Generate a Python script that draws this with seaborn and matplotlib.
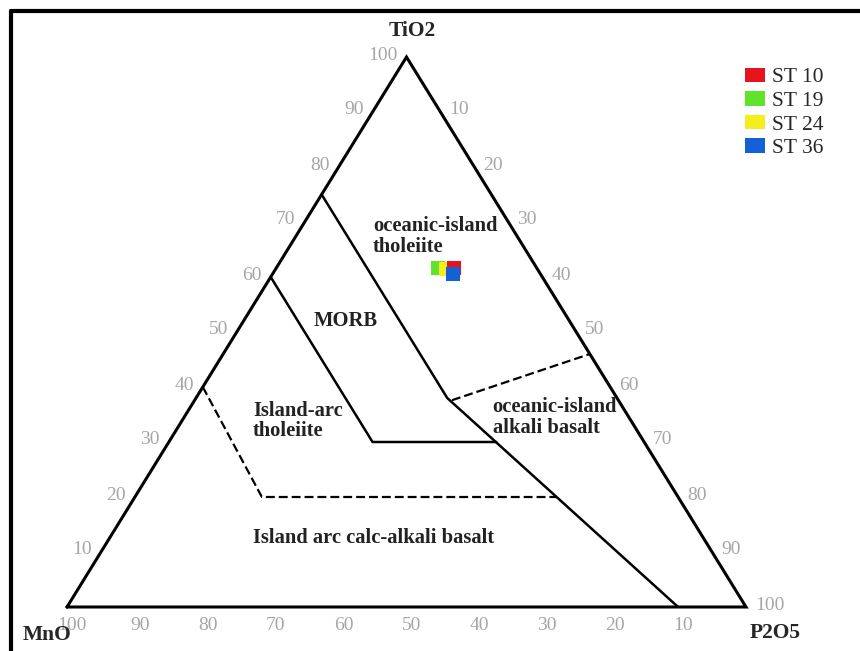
import numpy as np
import pandas as pd
import matplotlib.pyplot as plt
from matplotlib.patches import Patch
from matplotlib.lines import Line2D
import seaborn as sns

# sample compositions (wt% normalised, TiO2 / MnO / P2O5)
samples = ['ST 10', 'ST 19', 'ST 24', 'ST 36']
tio2 = [61.6, 61.6, 61.5, 60.5]
mno = [12.2, 14.5, 13.5, 12.9]
p2o5 = [26.2, 23.9, 25.0, 26.6]
colors = ['#e8141c', '#5fe32b', '#f4ef1c', '#1460d6']
draw_order = ['ST 19', 'ST 24', 'ST 10', 'ST 36']

# field boundaries (TiO2, MnO, P2O5)
morb_line = [(75, 25, 0), (38, 25, 37), (0, 10, 90)]
iat_line = [(60, 40, 0), (30, 40, 30), (30, 21.8, 48.2)]
cab_line = [(40, 60, 0), (20, 61.3, 18.7), (20, 17.9, 62.1)]
oia_line = [(37.6, 24.5, 37.9), (46, 0, 54)]
outline = [(0, 100, 0), (0, 0, 100), (100, 0, 0), (0, 100, 0)]
tick_vals = [10, 20, 30, 40, 50, 60, 70, 80, 90, 100]


def tern(pts):
    # top = TiO2, bottom left = MnO, bottom right = P2O5
    a = np.asarray(pts, float) / 100.0
    return a[:, 2] + 0.5 * a[:, 0], a[:, 0]


sns.set_style('white')
plt.rcParams['font.family'] = ['Liberation Serif', 'DejaVu Serif']

fig = plt.figure(figsize=(8.6, 6.51), dpi=100)
ax = fig.add_axes([67 / 860, 44 / 651, 679 / 860, 550 / 651])
ax.set_xlim(0, 1)
ax.set_ylim(0, 1)
ax.axis('off')

x, y = tern(outline)
ax.plot(x, y, color='black', lw=2.2, solid_joinstyle='miter', clip_on=False)
for line in [morb_line, iat_line]:
    x, y = tern(line)
    ax.plot(x, y, color='black', lw=1.8)
for line in [cab_line, oia_line]:
    x, y = tern(line)
    ax.plot(x, y, color='black', lw=1.6, dashes=(4, 1.8))

# tick labels
grey = '#a6a6a6'
for v in tick_vals:
    lx, ly = tern([(v, 100 - v, 0)])
    ax.annotate(str(v), (lx[0], ly[0]), xytext=(-9, 2), textcoords='offset pixels',
                ha='right', va='center', color=grey, fontsize=14, annotation_clip=False)
    rx, ry = tern([(100 - v, 0, v)])
    ax.annotate(str(v), (rx[0], ry[0]), xytext=(9, 2), textcoords='offset pixels',
                ha='left', va='center', color=grey, fontsize=14, annotation_clip=False)
    bx, by = tern([(0, v, 100 - v)])
    ax.annotate(str(v), (bx[0], by[0]), xytext=(5, -19), textcoords='offset pixels',
                ha='center', va='center', color=grey, fontsize=14, annotation_clip=False)

# apex labels
ax.text(0.508, 1.047, 'TiO2', ha='center', va='center', fontsize=15.5, fontweight='bold')
ax.text(-0.03, -0.05, 'MnO', ha='center', va='center', fontsize=15.5, fontweight='bold')
ax.text(1.043, -0.047, 'P2O5', ha='center', va='center', fontsize=15.5, fontweight='bold')

# field names
fkw = dict(fontsize=14.8, fontweight='bold', color='#222222', va='center', ha='left',
           linespacing=1.05)
ax.text(0.451, 0.673, 'oceanic-island\ntholeiite', **fkw)
ax.text(0.411, 0.52, 'MORB', **{**fkw, 'ha': 'center'})
ax.text(0.274, 0.338, 'Island-arc\ntholeiite', **fkw)
ax.text(0.627, 0.344, 'oceanic-island\nalkali basalt', **fkw)
ax.text(0.274, 0.125, 'Island arc calc-alkali basalt', **fkw)

# samples
df = pd.DataFrame({'sample': samples, 'TiO2': tio2, 'MnO': mno, 'P2O5': p2o5})
df['x'], df['y'] = tern(df[['TiO2', 'MnO', 'P2O5']].values)
df = df.set_index('sample').loc[draw_order].reset_index()
sns.scatterplot(data=df, x='x', y='y', hue='sample', palette=dict(zip(samples, colors)),
                marker='s', s=100, linewidth=0, legend=False, ax=ax, zorder=5)

handles = [Patch(facecolor=c, edgecolor='none', label=s) for s, c in zip(samples, colors)]
fig.legend(handles=handles, loc='upper left', bbox_to_anchor=(736 / 860, 1 - 59 / 651),
           frameon=False, handlelength=0.95, handleheight=0.65, handletextpad=0.3,
           labelspacing=0.18, fontsize=15.5, borderaxespad=0)

# page frame (top and left)
fig.add_artist(Line2D([11 / 860, 11 / 860], [0, 1 - 11 / 651], color='black', lw=3,
                      transform=fig.transFigure))
fig.add_artist(Line2D([11 / 860, 1], [1 - 11 / 651, 1 - 11 / 651], color='black', lw=3,
                      transform=fig.transFigure))

fig.savefig('out.png', dpi=100)
